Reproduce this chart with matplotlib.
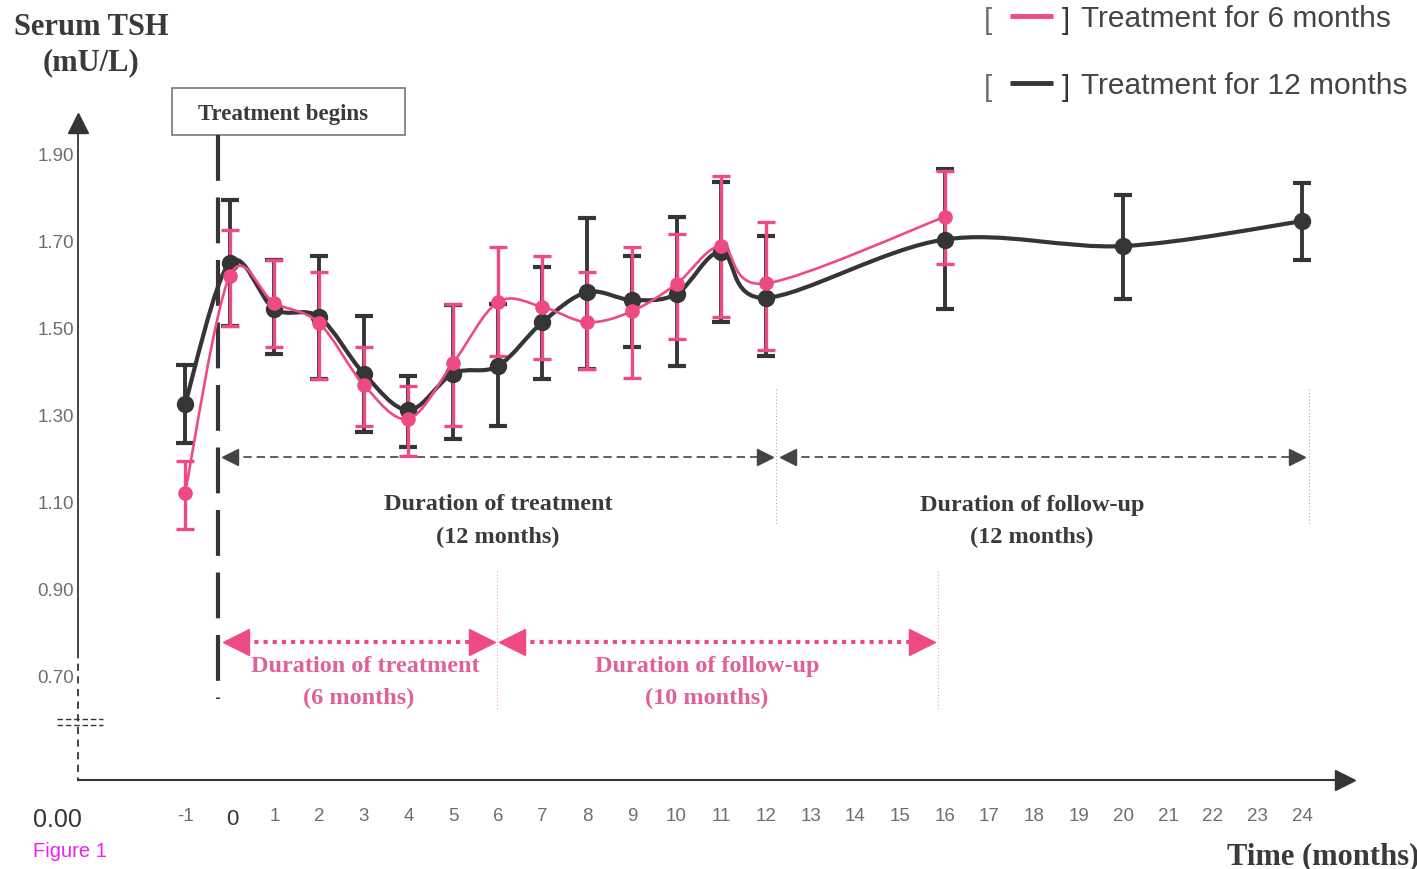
import numpy as np
import matplotlib.pyplot as plt
from matplotlib.path import Path
from matplotlib.patches import PathPatch, Rectangle

# --- data ---
months_12 = [-1, 0, 1, 2, 3, 4, 5, 6, 7, 8, 9, 10, 11, 12, 16, 20, 24]
tsh_12 = [1.33, 1.655, 1.548, 1.53, 1.40, 1.316, 1.40, 1.417, 1.518, 1.587,
          1.569, 1.583, 1.68, 1.574, 1.708, 1.693, 1.75]
lo_12 = [1.24, 1.51, 1.445, 1.387, 1.266, 1.231, 1.25, 1.28, 1.387, 1.41,
         1.46, 1.417, 1.518, 1.44, 1.548, 1.572, 1.661]
hi_12 = [1.42, 1.80, 1.66, 1.67, 1.532, 1.394, 1.557, 1.56, 1.645, 1.757,
         1.67, 1.76, 1.84, 1.717, 1.87, 1.81, 1.838]

months_6 = [-1, 0, 1, 2, 3, 4, 5, 6, 7, 8, 9, 10, 11, 12, 16]
tsh_6 = [1.125, 1.624, 1.562, 1.516, 1.374, 1.296, 1.424, 1.564, 1.553,
         1.518, 1.543, 1.606, 1.693, 1.607, 1.760]
lo_6 = [1.043, 1.51, 1.46, 1.387, 1.279, 1.21, 1.28, 1.44, 1.433, 1.41,
        1.39, 1.48, 1.53, 1.455, 1.652]
hi_6 = [1.199, 1.73, 1.66, 1.633, 1.461, 1.371, 1.56, 1.69, 1.67, 1.633,
        1.69, 1.72, 1.854, 1.749, 1.865]

ytick_vals = [1.90, 1.70, 1.50, 1.30, 1.10, 0.90, 0.70]
xtick_vals = list(range(-1, 25))

PINK = '#ee4a84'
DARK = '#353538'
GREY = '#6e6e6e'
SERIF = ['Liberation Serif', 'DejaVu Serif']
SANS = ['Liberation Sans', 'DejaVu Sans']

# pixel -> data helpers (layout only)
X0, DX = 229.7, 44.68
def mx(px):
    return (px - X0) / DX
def vy(py):
    return 1.90 - (py - 157) / 435.0


def smooth_path(xs, ys):
    # catmull-rom through the points, as cubic bezier segments
    p = np.column_stack([xs, ys]).astype(float)
    verts = [p[0]]
    codes = [Path.MOVETO]
    n = len(p)
    for i in range(n - 1):
        p0 = p[i - 1] if i > 0 else p[i]
        p3 = p[i + 2] if i + 2 < n else p[i + 1]
        c1 = p[i] + (p[i + 1] - p0) / 6.0
        c2 = p[i + 1] - (p3 - p[i]) / 6.0
        verts += [c1, c2, p[i + 1]]
        codes += [Path.CURVE4] * 3
    return Path(verts, codes)


fig = plt.figure(figsize=(14.17, 8.7), dpi=100)
ax = fig.add_axes([0, 0, 1, 1])
ax.set_xlim(mx(0), mx(1417))
ax.set_ylim(vy(870), vy(0))
ax.axis('off')

# error bars
t12 = np.array(tsh_12)
ax.errorbar(months_12, t12, yerr=[t12 - np.array(lo_12), np.array(hi_12) - t12],
            fmt='none', ecolor=DARK, elinewidth=2.8, capsize=6.5, capthick=3, zorder=3)
t6 = np.array(tsh_6)
ax.errorbar(months_6, t6, yerr=[t6 - np.array(lo_6), np.array(hi_6) - t6],
            fmt='none', ecolor=PINK, elinewidth=2.4, capsize=6.5, capthick=2.4, zorder=4)

# smoothed lines + markers
ax.add_patch(PathPatch(smooth_path(months_12, tsh_12), facecolor='none',
                       edgecolor=DARK, lw=3.0, zorder=5))
ax.plot(months_12, tsh_12, 'o', color=DARK, ms=11.5, zorder=6)
ax.add_patch(PathPatch(smooth_path(months_6, tsh_6), facecolor='none',
                       edgecolor=PINK, lw=1.9, zorder=7))
ax.plot(months_6, tsh_6, 'o', color=PINK, ms=9.5, zorder=8)

# axes drawn by hand
yx = mx(78)
ax.plot([yx, yx], [vy(652), vy(130)], color=DARK, lw=1.3, zorder=2)
ax.plot([yx, yx], [vy(652), vy(780)], color=DARK, lw=1.3, ls=(0, (4, 3)), zorder=2)
ax.plot([yx], [vy(124)], marker='^', color=DARK, ms=14, zorder=2)
ax.plot([mx(57), mx(103)], [vy(720), vy(720)], color=DARK, lw=1.0, ls=(0, (4, 2)))
ax.plot([mx(57), mx(103)], [vy(726), vy(726)], color=DARK, lw=1.0, ls=(0, (4, 2)))
ax.plot([yx, mx(1340)], [vy(781), vy(781)], color=DARK, lw=1.5, zorder=2)
ax.plot([mx(1345)], [vy(781)], marker='>', color=DARK, ms=14, zorder=2)

for v in ytick_vals:
    ax.text(mx(74), v, '%.2f' % v, ha='right', va='center', fontsize=13.5,
            color=GREY, family=SANS)
for m in xtick_vals:
    if m == 0:
        ax.text(m + 0.05, vy(820), '0', ha='center', va='center', fontsize=16,
                color=DARK, family=SANS)
    else:
        ax.text(m, vy(817), str(m), ha='center', va='center', fontsize=13.5,
                color=GREY, family=SANS)
ax.text(mx(33), vy(820), '0.00', ha='left', va='center', fontsize=18,
        color=DARK, family=SANS)

ax.text(mx(91), vy(27), 'Serum TSH', ha='center', va='center', fontsize=22,
        fontweight='bold', color='#3a3a3a', family=SERIF)
ax.text(mx(91), vy(63), '(mU/L)', ha='center', va='center', fontsize=22,
        fontweight='bold', color='#3a3a3a', family=SERIF)
ax.text(mx(1419), vy(857), 'Time (months)', ha='right', va='center', fontsize=22,
        fontweight='bold', color='#3a3a3a', family=SERIF)
ax.text(mx(33), vy(852), 'Figure 1', ha='left', va='center', fontsize=14.5,
        color='#f020f0', family=SANS)

# legend
for py, col, lab in [(19, PINK, 'Treatment for 6 months'),
                     (86, DARK, 'Treatment for 12 months')]:
    ax.text(mx(988), vy(py + 2), '[', ha='center', va='center', fontsize=21,
            color=GREY, family=SANS)
    ax.plot([mx(1010), mx(1053)], [vy(py - 2), vy(py - 2)], color=col, lw=3.5,
            solid_capstyle='butt')
    ax.text(mx(1066), vy(py + 2), ']', ha='center', va='center', fontsize=21,
            color=DARK, family=SANS)
    ax.text(mx(1081), vy(py), lab, ha='left', va='center', fontsize=21.5,
            color='#444444', family=SANS)

# treatment begins
ax.add_patch(Rectangle((mx(172), vy(136)), mx(405) - mx(172), vy(89) - vy(136),
                       facecolor='white', edgecolor='#777777', lw=1.2, zorder=2))
ax.text(mx(283), vy(114), 'Treatment begins', ha='center', va='center',
        fontsize=16.5, fontweight='bold', color='#3a3a3a', family=SERIF, zorder=3)
ax.plot([mx(218), mx(218)], [vy(136), vy(700)], color=DARK, lw=3,
        ls=(0, (11, 4)), zorder=2)

# 12 month arrows
def dash_arrow(x1, x2, py, col, lw, ls, ms):
    ax.plot([mx(x1), mx(x2)], [vy(py), vy(py)], color=col, lw=lw, ls=ls, zorder=2)
    ax.plot([mx(x1)], [vy(py)], marker='<', color=col, ms=ms, zorder=2)
    ax.plot([mx(x2)], [vy(py)], marker='>', color=col, ms=ms, zorder=2)

dash_arrow(230, 765, 458, '#444444', 1.2, (0, (5, 3)), 12)
dash_arrow(788, 1297, 458, '#444444', 1.2, (0, (5, 3)), 12)
for px in [776, 1309]:
    ax.plot([mx(px), mx(px)], [vy(390), vy(525)], color='#aaaaaa', lw=0.8,
            ls=(0, (1, 2)))
DFS = 17.5
ax.text(mx(498), vy(505), 'Duration of treatment', ha='center', va='center',
        fontsize=DFS, fontweight='bold', color='#3a3a3a', family=SERIF)
ax.text(mx(498), vy(537), '(12 months)', ha='center', va='center',
        fontsize=DFS, fontweight='bold', color='#3a3a3a', family=SERIF)
ax.text(mx(1032), vy(505), 'Duration of follow-up', ha='center', va='center',
        fontsize=DFS, fontweight='bold', color='#3a3a3a', family=SERIF)
ax.text(mx(1032), vy(537), '(12 months)', ha='center', va='center',
        fontsize=DFS, fontweight='bold', color='#3a3a3a', family=SERIF)

# 6 month arrows
dash_arrow(236, 482, 643, PINK, 3, (0, (1, 1.2)), 19)
dash_arrow(512, 922, 643, PINK, 3, (0, (1, 1.2)), 19)
for px in [497, 938]:
    ax.plot([mx(px), mx(px)], [vy(572), vy(710)], color='#f4a0c0', lw=0.8,
            ls=(0, (1, 2)))
ax.text(mx(365), vy(667), 'Duration of treatment', ha='center', va='center',
        fontsize=DFS, fontweight='bold', color='#e0609a', family=SERIF)
ax.text(mx(359), vy(698), '(6 months)', ha='center', va='center',
        fontsize=DFS, fontweight='bold', color='#e0609a', family=SERIF)
ax.text(mx(707), vy(667), 'Duration of follow-up', ha='center', va='center',
        fontsize=DFS, fontweight='bold', color='#e0609a', family=SERIF)
ax.text(mx(707), vy(698), '(10 months)', ha='center', va='center',
        fontsize=DFS, fontweight='bold', color='#e0609a', family=SERIF)

fig.savefig('out.png', dpi=100)
